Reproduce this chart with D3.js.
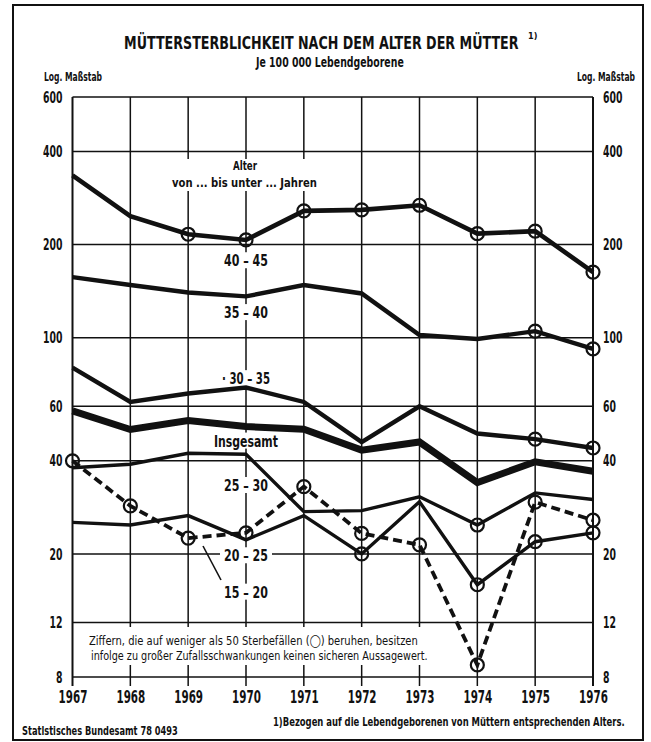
<!DOCTYPE html>
<html><head><meta charset="utf-8">
<script src="https://cdn.jsdelivr.net/npm/d3@7"></script>
<style>
body{margin:0;background:#fff;}
svg text{font-family:"DejaVu Sans Condensed","Liberation Sans Narrow","Arial Narrow",sans-serif;fill:#111;}
</style></head>
<body><svg id="c" width="651" height="742"></svg>
<script>
const years = [1967,1968,1969,1970,1971,1972,1973,1974,1975,1976];
const age40_45 = [335,247,216,207,257,259,268,217,221,163];
const age35_40 = [157,148,140,136,148,139,102,99,105,92];
const age30_35 = [80,62,66,69,62,46,60,49,47,44];
const insgesamt = [58,50.5,54,51.6,50.6,43.3,46,34,39.7,37];
const age25_30 = [38,39,42.3,42,27.4,27.6,30.6,24.8,31.5,30];
const age20_25 = [25.3,24.8,26.6,22.2,26.6,20,29.5,15.9,21.9,23.4];
const age15_20 = [40,28.6,22.5,23.4,33,23.3,21.4,8.75,29.4,25.7];
// years whose value is based on fewer than 50 deaths (circles)
const few40_45 = [1969,1970,1971,1972,1973,1974,1975,1976];
const few35_40 = [1975,1976];
const few30_35 = [1975,1976];
const few25_30 = [1974];
const few20_25 = [1972,1974,1975,1976];
const few15_20 = years;
const yTicks = [8,12,20,40,60,100,200,400,600];
const seriesLabels = ["40 – 45","35 – 40","· 30 – 35","Insgesamt","25 – 30","20 – 25","15 – 20"];

const svg = d3.select("#c");
const x = d3.scaleLinear().domain([1967,1976]).range([72.5,593]);
const y = d3.scaleLog().domain([8,600]).range([677,97]);

// squeeze a text horizontally to a target width, keeping its anchor point fixed
function squeeze(sel,len){
  sel.each(function(d){
    const n=this, w=n.getComputedTextLength();
    const L = typeof len==="function"?len(d):len;
    if(!w) return;
    const sx=L/w, ax=+(n.getAttribute("x")||0);
    d3.select(n).attr("transform",`translate(${ax*(1-sx)},0) scale(${sx},1)`);
  });
  return sel;
}

// frame
svg.append("rect").attr("x",13).attr("y",5).attr("width",630).attr("height",735)
  .attr("fill","none").attr("stroke","#111").attr("stroke-width",2);

// title
svg.append("text").attr("x",124).attr("y",49).attr("font-size",17).attr("font-weight","bold")
  .text("MÜTTERSTERBLICHKEIT NACH DEM ALTER DER MÜTTER").call(squeeze,395);
svg.append("text").attr("x",528).attr("y",39).attr("font-size",9).attr("font-weight","bold").text("1)");
svg.append("text").attr("x",256).attr("y",67).attr("font-size",14).attr("font-weight","bold")
  .text("Je 100 000 Lebendgeborene").call(squeeze,148);
svg.append("text").attr("x",44).attr("y",81).attr("font-size",12).attr("font-weight","bold").text("Log. Maßstab").call(squeeze,58);
svg.append("text").attr("x",577).attr("y",81).attr("font-size",12).attr("font-weight","bold").text("Log. Maßstab").call(squeeze,58);

// grid
const g = svg.append("g");
g.selectAll("line.h").data(yTicks).join("line")
  .attr("x1",x(1967)).attr("x2",x(1976)).attr("y1",d=>y(d)).attr("y2",d=>y(d))
  .attr("stroke","#111").attr("stroke-width",1.5);
g.selectAll("line.v").data(years).join("line")
  .attr("x1",d=>x(d)).attr("x2",d=>x(d)).attr("y1",y(600)).attr("y2",y(8)+9)
  .attr("stroke","#111").attr("stroke-width",d=>(d===1967||d===1976)?2:1.5);

// axes labels
const axL = d3.axisLeft(y).tickValues(yTicks).tickFormat(d3.format("d")).tickSize(0).tickPadding(10);
const axR = d3.axisRight(y).tickValues(yTicks).tickFormat(d3.format("d")).tickSize(0).tickPadding(10);
const axB = d3.axisBottom(x).tickValues(years).tickFormat(d3.format("d")).tickSize(0).tickPadding(14);
function styleAx(sel,fs,cw){
  sel.select(".domain").remove();
  sel.selectAll("text").attr("font-size",fs).attr("font-weight","bold").attr("fill","#111")
    .style("font-family",null).call(squeeze,d=>String(d).length*cw);
}
svg.append("g").attr("transform",`translate(${x(1967)},0)`).call(axL).call(s=>styleAx(s,16,6.5));
svg.append("g").attr("transform",`translate(${x(1976)},0)`).call(axR).call(s=>styleAx(s,16,6.5));
svg.append("g").attr("transform",`translate(0,${y(8)})`).call(axB).call(s=>styleAx(s,17,7.2));

// white boxes for labels (interrupt grid)
const lx = x(1970);
function labelBox(cx,cy,w,h){svg.append("rect").attr("x",cx-w/2).attr("y",cy-h/2).attr("width",w).attr("height",h).attr("fill","#fff");}
labelBox(lx-2,175,150,32);
labelBox(85+174,646,348,38);

// series labels (positions on the value axis)
const labelY = [178,121,74,46.5,33.4,19.8,15.1];
const labelW = [44,44,48,64,44,44,44];
seriesLabels.forEach((t,i)=>{
  const cy = y(labelY[i]);
  labelBox(lx,cy,labelW[i]+8,16);
  svg.append("text").attr("x",lx-labelW[i]/2).attr("y",cy+6).attr("font-size",16).attr("font-weight","bold")
    .text(t).call(squeeze,labelW[i]);
});
svg.append("text").attr("x",lx-13).attr("y",170.5).attr("font-size",13).attr("font-weight","bold").text("Alter").call(squeeze,24);
svg.append("text").attr("x",lx-74).attr("y",187.5).attr("font-size",13).attr("font-weight","bold").text("von ... bis unter ... Jahren").call(squeeze,145);

// series
const series = [
  {v:age40_45,w:4.6,few:few40_45},
  {v:age35_40,w:4.4,few:few35_40},
  {v:age30_35,w:4.4,few:few30_35},
  {v:insgesamt,w:7,few:[]},
  {v:age25_30,w:3.4,few:few25_30},
  {v:age20_25,w:3.4,few:few20_25},
  {v:age15_20,w:3.8,few:few15_20,dash:"9,5"}
];
const line = d3.line().x((d,i)=>x(years[i])).y(d=>y(d));
series.forEach(s=>{
  svg.append("path").datum(s.v).attr("d",line).attr("fill","none").attr("stroke","#111")
    .attr("stroke-width",s.w).attr("stroke-linejoin","miter").attr("stroke-dasharray",s.dash||null);
});
series.forEach(s=>{
  svg.selectAll(null).data(s.few).join("circle")
    .attr("cx",d=>x(d)).attr("cy",d=>y(s.v[years.indexOf(d)])).attr("r",6.5)
    .attr("fill","none").attr("stroke","#111").attr("stroke-width",2.2);
});

// leader for 15-20
svg.append("line").attr("x1",203).attr("y1",546).attr("x2",221).attr("y2",580).attr("stroke","#111").attr("stroke-width",1.6);

// note
svg.append("text").attr("x",89).attr("y",645).attr("font-size",13)
  .text("Ziffern, die auf weniger als 50 Sterbefällen (◯) beruhen, besitzen").call(squeeze,329);
svg.append("text").attr("x",91).attr("y",660).attr("font-size",13)
  .text("infolge zu großer Zufallsschwankungen keinen sicheren Aussagewert.").call(squeeze,337);

// footer
svg.append("text").attr("x",22).attr("y",735).attr("font-size",12).attr("font-weight","bold").text("Statlstisches Bundesamt 78 0493").call(squeeze,156);
svg.append("text").attr("x",273).attr("y",726).attr("font-size",12).attr("font-weight","bold")
  .text("1)Bezogen auf die Lebendgeborenen von Müttern entsprechenden Alters.").call(squeeze,352);
</script></body></html>
